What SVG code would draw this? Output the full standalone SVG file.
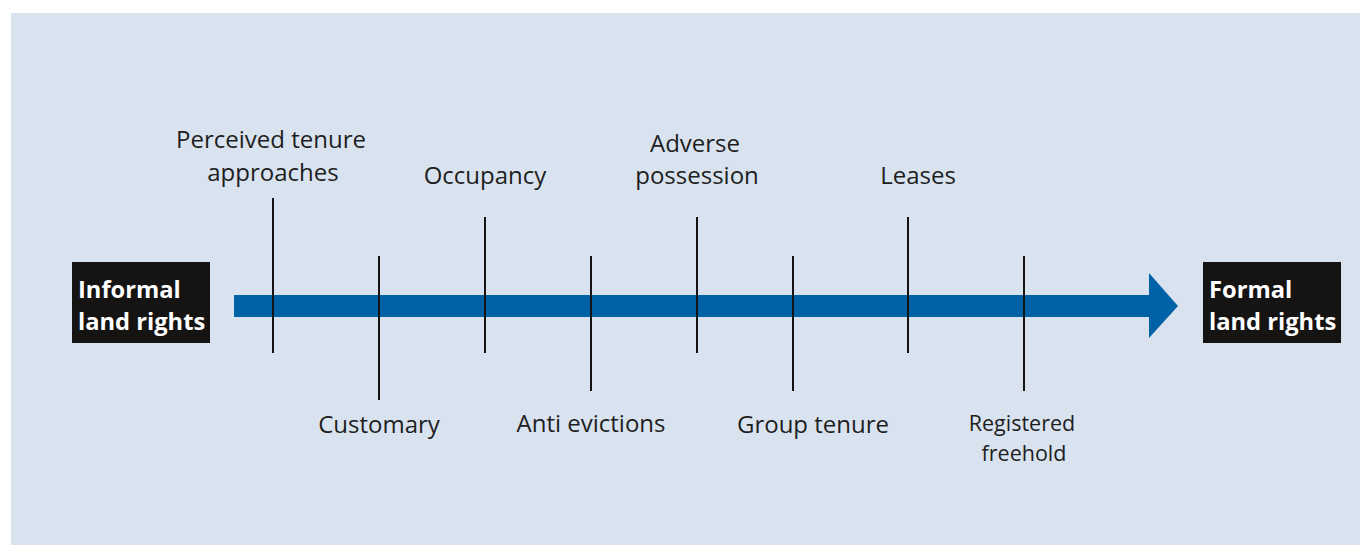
<svg xmlns="http://www.w3.org/2000/svg" width="1360" height="545" viewBox="0 0 1360 545">
<style>
.lbl{font-family:"Open Sans","Liberation Sans",sans-serif;font-size:24px;fill:#1e1e1e;text-anchor:middle}
.sm{font-size:21.5px}
.box{fill:#161412}
.bt{font-family:"Open Sans","Liberation Sans",sans-serif;font-size:23.7px;font-weight:bold;fill:#ffffff}
.tick{stroke:#161412;stroke-width:2}
</style>
<rect x="0" y="0" width="1360" height="545" fill="#ffffff"/>
<rect x="11" y="13" width="1349" height="532" fill="#d9e3ef"/>
<g id="arrow">
<path d="M234 295 H1149 V273 L1178 306 L1149 338 V317 H234 Z" fill="#0062a6"/>
</g>
<g id="connectors">
<line class="tick" x1="273" y1="198" x2="273" y2="353"/>
<line class="tick" x1="379" y1="256" x2="379" y2="400"/>
<line class="tick" x1="485" y1="217" x2="485" y2="353"/>
<line class="tick" x1="591" y1="256" x2="591" y2="391"/>
<line class="tick" x1="697" y1="217" x2="697" y2="353"/>
<line class="tick" x1="793" y1="256" x2="793" y2="391"/>
<line class="tick" x1="908" y1="217" x2="908" y2="353"/>
<line class="tick" x1="1024" y1="256" x2="1024" y2="391"/>
</g>
<g id="informal">
<rect class="box" x="72" y="262" width="138" height="81"/>
<text class="bt" x="78" y="298">Informal</text>
<text class="bt" x="78" y="330">land rights</text>
</g>
<g id="formal">
<rect class="box" x="1203" y="262" width="138" height="81"/>
<text class="bt" x="1209" y="298">Formal</text>
<text class="bt" x="1209" y="330">land rights</text>
</g>
<g id="perceived">
<text class="lbl" x="271" y="148">Perceived tenure</text>
<text class="lbl" x="273" y="181">approaches</text>
</g>
<g id="occupancy"><text class="lbl" x="485" y="184">Occupancy</text></g>
<g id="adverse">
<text class="lbl" x="695" y="152">Adverse</text>
<text class="lbl" x="697" y="184">possession</text>
</g>
<g id="leases"><text class="lbl" x="918" y="184">Leases</text></g>
<g id="customary"><text class="lbl" x="379" y="433">Customary</text></g>
<g id="anti"><text class="lbl" x="591" y="432">Anti evictions</text></g>
<g id="group"><text class="lbl" x="813" y="433">Group tenure</text></g>
<g id="registered">
<text class="lbl sm" x="1022" y="431">Registered</text>
<text class="lbl sm" x="1024" y="461">freehold</text>
</g>
</svg>
